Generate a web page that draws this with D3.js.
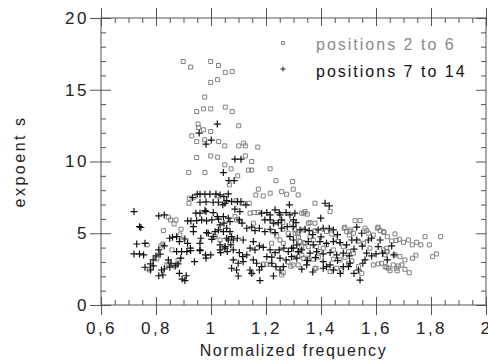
<!DOCTYPE html>
<html>
<head>
<meta charset="utf-8">
<script src="https://cdn.jsdelivr.net/npm/d3@7"></script>
<style>
  body { margin: 0; background: #fff; }
  svg { display: block; }
  svg text { font-family: "Liberation Sans", Arial, Helvetica, sans-serif; }
</style>
</head>
<body>
<div id="chart"></div>
<script>

// axis ticks
var freqTicks = [0.6, 0.8, 1, 1.2, 1.4, 1.6, 1.8, 2];
var expTicks = [0, 5, 10, 15, 20];

// legend labels
var seriesNames = ["positions 2 to 6", "positions 7 to 14"];

// positions 2 to 6 : [normalized frequency, exponent s]
var pos2to6 = [
  [0.899,16.97],[0.926,16.58],[0.999,16.97],[1.027,16.69],[1.052,16.21],[1.077,16.27],
  [0.999,15.51],[1.024,15.70],[0.977,14.49],[0.948,13.48],[0.973,13.67],[0.999,13.67],
  [1.052,13.79],[1.077,13.48],[0.953,12.61],[0.955,12.37],[0.973,12.21],[0.999,12.09],
  [1.101,12.49],[0.930,11.79],[0.977,11.51],[0.948,11.39],[1.028,11.39],[1.050,11.09],
  [1.101,11.09],[1.119,11.28],[1.125,11.09],[1.170,11.0],[0.948,10.28],[0.999,10.39],
  [1.024,10.30],[1.125,10.39],[1.148,10.0],[1.050,9.77],[1.073,9.49],[1.136,9.40],
  [1.148,9.40],[1.215,9.49],[0.919,9.23],[0.978,9.23],[1.097,9.0],[1.236,8.67],
  [1.297,8.60],[1.067,8.37],[1.172,8.07],[1.215,7.79],[1.257,7.90],[1.275,7.72],
  [1.299,8.07],[1.317,7.67],[1.190,7.60],[0.921,7.44],[0.938,7.51],[1.163,7.67],
  [1.091,7.26],[1.112,7.09],[1.139,7.09],[1.142,6.40],[1.157,6.44],[1.172,6.44],
  [1.087,6.16],[1.093,5.93],[1.105,5.86],[1.154,5.70],[1.261,5.28],[1.281,5.0],
  [1.305,5.23],[1.315,4.95],[1.015,4.76],[1.033,4.53],[1.148,2.21],[1.190,2.84],
  [1.203,2.84],[1.215,2.84],[1.257,2.09],
  [0.92,7.09],[1.021,7.60],[0.845,6.12],[0.853,5.93],[0.873,5.93],[0.866,5.65],
  [0.827,5.18],[0.891,5.28],[0.887,4.88],[0.895,4.58],[0.818,4.12],[0.825,4.25],
  [0.768,4.19],[0.858,3.84],[0.839,2.79],[0.847,2.86],[0.869,2.72],[0.803,3.21],
  [0.784,2.60],[0.775,2.45],[0.88,3.1],
  [1.378,7.09],[1.433,6.51],[1.342,6.51],[1.33,6.40],[1.354,5.70],[1.378,5.70],
  [1.336,5.23],[1.524,5.88],[1.542,5.88],[1.487,5.42],[1.505,5.11],[1.518,5.0],
  [1.608,5.42],[1.572,5.0],[1.590,4.88],[1.627,5.11],[1.641,4.76],[1.535,4.45],
  [1.554,4.30],[1.578,3.96],[1.639,3.72],[1.536,2.67],[1.548,2.21],[1.59,2.79],
  [1.608,2.86],[1.633,2.67],[1.645,2.56],[1.299,2.79],[1.317,2.79],[1.378,2.56],
  [1.433,2.33],[1.457,2.56],[1.475,2.44],[1.512,3.09],[1.50,2.91],[1.445,3.19],
  [1.469,3.14],[1.487,3.33],[1.336,3.26],[1.354,3.14],[1.372,3.19],[1.39,3.33],
  [1.306,5.0],[1.318,4.76],[1.324,4.42],[1.33,4.07],[1.342,4.30],[1.36,4.76],
  [1.372,4.53],[1.384,4.07],[1.396,3.72],[1.408,3.96],[1.42,4.19],[1.445,3.84],
  [1.463,4.42],[1.481,4.07],[1.50,3.72],[1.518,3.61],
  [1.225,5.11],[1.236,5.74],[1.261,5.74],[1.293,5.70],[1.36,5.74],[1.338,6.40],
  [1.35,6.33],[1.378,5.18],[1.42,5.11],[1.439,4.95],[1.451,4.65],[1.484,5.35],
  [1.493,5.11],[1.336,4.35],[1.354,4.07],[1.33,3.49],[1.35,3.26],[1.382,2.56],
  [1.263,2.25],[1.239,4.81],[1.251,4.53],[1.263,4.30],[1.22,4.3],[1.30,3.3],
  [1.28,3.0],[1.29,2.7],[1.605,5.35],[1.508,5.23],[1.503,4.88],[1.56,5.35],[1.566,5.18],
  [1.615,5.18],[1.629,5.07],[1.669,4.95],[1.657,4.46],[1.673,4.49],[1.685,4.58],
  [1.70,4.37],[1.718,4.53],[1.732,4.19],[1.748,4.37],[1.763,4.19],[1.778,4.76],
  [1.794,4.19],[1.835,4.76],[1.806,3.37],[1.82,3.56],[1.733,3.26],[1.745,3.47],
  [1.705,3.14],[1.687,3.37],[1.669,3.49],[1.627,3.84],[1.639,3.96],[1.641,3.72],
  [1.633,3.49],[1.62,2.91],[1.639,2.63],[1.651,2.39],[1.663,2.79],[1.675,2.56],
  [1.681,2.72],[1.694,2.79],[1.677,2.39],[1.705,2.49],[1.721,2.25]
];

// positions 7 to 14 : [normalized frequency, exponent s]
var pos7to14 = [
  [0.72,6.51],[0.74,5.46],[0.745,5.4],[0.76,4.30],[0.73,4.25],[0.72,3.56],[0.74,3.56],
  [0.755,3.49],[0.76,2.63],[0.78,2.86],[0.79,2.72],[0.78,2.44],[0.79,3.14],[0.80,3.42],
  [0.81,3.84],[0.815,3.54],[0.83,4.12],[0.82,2.44],[0.83,2.51],[0.81,2.04],[0.825,2.09],
  [0.845,3.14],[0.85,2.63],[0.855,2.91],[0.87,2.72],[0.88,2.86],[0.885,2.21],[0.895,1.81],
  [0.905,1.70],[0.91,2.04],[0.89,3.26],[0.85,4.65],[0.86,4.72],[0.875,4.76],[0.885,4.42],
  [0.905,4.60],[0.915,4.30],[0.925,3.96],[0.875,3.72],[0.893,3.72],[0.912,3.72],
  [0.926,3.79],[0.94,3.02],[0.96,3.79],[0.98,3.49],[0.96,4.30],[0.81,6.21],[0.83,6.28],
  [0.915,5.86],[0.927,5.86],[0.936,5.46],
  [0.95,7.72],[0.96,7.72],[0.978,7.72],[0.996,7.72],[0.933,7.49],[0.96,7.16],[0.945,6.40],
  [0.978,6.58],[0.982,7.19],[0.966,5.93],[0.984,5.86],[0.948,5.88],[1.008,7.16],
  [1.027,7.16],[1.051,7.09],[1.003,5.93],[1.027,5.98],[1.015,5.11],[0.984,5.04],
  [0.936,5.11],[0.963,4.65],[1.003,4.58],[1.033,3.84],[1.063,4.53],[1.051,4.07],
  [1.057,5.35],[1.063,6.05],
  [1.023,12.61],[0.957,11.98],[1.001,11.49],[0.982,11.21],[1.087,10.16],[1.109,10.16],
  [1.045,9.23],[1.065,8.67],[1.084,8.67],
  [1.018,7.74],[1.033,7.67],[1.047,7.55],[1.063,7.74],[1.043,6.98],[1.057,7.28],
  [1.075,7.21],[1.096,7.21],[1.109,7.21],[1.127,6.98],[1.087,6.68],[1.105,6.51],[1.285,6.98],
  [0.96,6.40],[0.982,6.51],[1.008,6.44],[1.023,6.16],[1.045,6.16],[1.069,5.81],[1.047,5.70],
  [1.033,5.58],[1.103,5.93],[1.113,5.70],
  [1.184,6.40],[1.203,6.44],[1.215,6.28],[1.233,6.63],[1.248,6.44],[1.251,6.28],
  [1.273,6.44],[1.287,6.28],[1.305,6.40],[1.196,5.93],[1.215,5.93],[1.227,5.70],
  [1.245,5.74],[1.257,5.93],
  [1.130,5.35],[1.148,5.42],[1.16,5.18],[1.176,5.35],[1.196,5.11],[1.215,5.28],
  [1.233,5.04],[1.257,5.35],[1.277,5.46],[1.299,5.46],
  [0.99,5.0],[1.008,4.76],[1.027,5.23],[1.045,5.11],[1.069,5.11],[1.057,4.65],[1.075,4.76],
  [1.081,4.53],[1.096,4.65],[1.117,4.53],[1.154,4.42],
  [0.96,3.84],[0.982,3.26],[0.999,3.49],[1.033,4.19],[1.051,3.96],[1.072,4.19],[1.035,3.65],
  [1.059,3.72],[1.081,3.84],[1.103,3.65],[1.115,3.37],[1.130,3.49],[1.142,3.96],[1.16,3.84],
  [1.176,4.12],[1.19,4.02],[1.215,3.84],[1.233,3.65],[1.248,3.84],[1.265,3.96],[1.281,3.72],
  [1.299,3.96],[1.317,3.72],[1.203,3.37],[1.221,3.33],[1.251,3.26],[1.273,3.14],
  [1.293,3.37],[1.312,3.26],
  [1.081,3.14],[1.099,2.91],[1.117,3.02],[1.093,2.44],[1.075,2.56],[1.154,3.14],[1.166,2.91],
  [1.176,2.44],[1.184,2.67],[1.142,2.44],[1.148,2.21],[1.221,2.91],[1.236,2.67],[1.251,2.44],
  [1.263,2.67],[1.227,2.02],[1.099,2.02],[1.178,1.70],
  [1.415,7.09],[1.43,6.91],[1.399,6.05],[1.30,5.93],[1.309,5.74],[1.324,5.23],[1.342,5.28],
  [1.357,5.18],[1.39,5.23],[1.408,5.35],[1.43,5.35],[1.445,5.23],[1.53,5.42],[1.548,5.0],
  [1.512,4.53],[1.53,4.53],[1.572,4.53],[1.584,4.65],[1.615,4.53],[1.608,4.07],
  [1.287,4.76],[1.30,4.53],[1.312,4.19],[1.293,3.96],[1.318,3.72],[1.33,3.84],[1.354,4.42],
  [1.372,4.19],[1.396,4.42],[1.42,4.30],[1.445,4.42],[1.469,4.35],[1.493,4.19],[1.36,3.61],
  [1.384,3.72],[1.408,3.56],[1.433,3.65],[1.457,3.49],[1.481,3.61],[1.503,3.42],[1.348,2.79],
  [1.408,3.02],[1.42,2.67],[1.433,2.79],[1.50,2.67],[1.505,2.91],[1.408,2.56],[1.445,2.44],
  [1.481,2.67],[1.542,1.74],[1.536,2.44],[1.552,2.91],[1.566,3.61],[1.584,3.42],[1.60,3.56],
  [1.56,3.14],[1.37,4.9],[1.40,4.75],[1.46,4.9],[1.35,3.1],[1.38,3.3],[1.46,3.1],[1.52,3.9],
  [1.55,4.1],[1.33,2.5],[1.37,2.3],[1.47,2.2],[1.52,2.2],
  [1.657,4.12],[1.624,3.61],[1.665,3.49],[1.641,3.14]
];

var W = 488, H = 363;
var margin = {top: 18, right: 2, bottom: 58, left: 101},
    width = W - margin.left - margin.right,
    height = H - margin.top - margin.bottom;

var axisColor = "#555";
var greyMark = "#808080";
var fontStack = "'Liberation Sans', Arial, Helvetica, sans-serif";

var x = d3.scaleLinear().domain([0.6, 2]).range([0, width]);
var y = d3.scaleLinear().domain([0, 20]).range([height, 0]);

var fmt = function(v) { return String(+v.toFixed(1)).replace(".", ","); };

var svg = d3.select("#chart").append("svg")
    .attr("width", W)
    .attr("height", H);

var g = svg.append("g")
    .attr("transform", "translate(" + margin.left + "," + margin.top + ")");

// minor tick values
var freqMinor = d3.range(0.65, 2, 0.05).filter(function(v) {
  return Math.abs(v * 5 - Math.round(v * 5)) > 1e-6;
});
var expMinor = d3.range(1, 20, 1).filter(function(v) { return v % 5 !== 0; });

function styleAxis(sel) {
  sel.attr("font-family", fontStack);
  sel.select(".domain").remove();
  sel.selectAll("line").attr("stroke", axisColor);
  sel.selectAll("text")
     .attr("fill", "#222")
     .style("font-family", fontStack)
     .style("font-size", "17px")
     .style("letter-spacing", "2.5px");
}

// bottom axis: labels + outside part of major ticks
g.append("g")
    .attr("transform", "translate(0," + height + ")")
    .call(d3.axisBottom(x).tickValues(freqTicks).tickFormat(fmt).tickSizeOuter(0).tickSize(10).tickPadding(7))
    .call(styleAxis);
// inside major + minor (bottom)
g.append("g")
    .attr("transform", "translate(0," + height + ")")
    .call(d3.axisBottom(x).tickValues(freqTicks).tickFormat("").tickSizeOuter(0).tickSize(-8))
    .call(styleAxis);
g.append("g")
    .attr("transform", "translate(0," + height + ")")
    .call(d3.axisBottom(x).tickValues(freqMinor).tickFormat("").tickSizeOuter(0).tickSize(-5))
    .call(styleAxis);

// top axis
g.append("g")
    .call(d3.axisTop(x).tickValues(freqTicks).tickFormat("").tickSizeOuter(0).tickSize(10))
    .call(styleAxis);
g.append("g")
    .call(d3.axisTop(x).tickValues(freqTicks).tickFormat("").tickSizeOuter(0).tickSize(-8))
    .call(styleAxis);
g.append("g")
    .call(d3.axisTop(x).tickValues(freqMinor).tickFormat("").tickSizeOuter(0).tickSize(-5))
    .call(styleAxis);

// left axis
g.append("g")
    .call(d3.axisLeft(y).tickValues(expTicks).tickFormat(d3.format("d")).tickSizeOuter(0).tickSize(11).tickPadding(1))
    .call(styleAxis);
g.append("g")
    .call(d3.axisLeft(y).tickValues(expTicks).tickFormat("").tickSizeOuter(0).tickSize(-10))
    .call(styleAxis);
g.append("g")
    .call(d3.axisLeft(y).tickValues(expMinor).tickFormat("").tickSizeOuter(0).tickSize(-5))
    .call(styleAxis);

// right axis
g.append("g")
    .attr("transform", "translate(" + width + ",0)")
    .call(d3.axisRight(y).tickValues(expTicks).tickFormat("").tickSizeOuter(0).tickSize(-10))
    .call(styleAxis);
g.append("g")
    .attr("transform", "translate(" + width + ",0)")
    .call(d3.axisRight(y).tickValues(expMinor).tickFormat("").tickSizeOuter(0).tickSize(-5))
    .call(styleAxis);

// frame
g.append("rect")
    .attr("x", 0).attr("y", 0)
    .attr("width", width).attr("height", height)
    .attr("fill", "none")
    .attr("stroke", axisColor)
    .attr("stroke-width", 1);

// axis titles
svg.append("text")
    .attr("x", margin.left + width / 2)
    .attr("y", 356)
    .attr("text-anchor", "middle")
    .style("font-size", "16px")
    .style("letter-spacing", "1.6px")
    .attr("fill", "#222")
    .text("Normalized frequency");

svg.append("text")
    .attr("transform", "translate(25," + (margin.top + height / 2) + ") rotate(-90)")
    .attr("text-anchor", "middle")
    .style("font-size", "16px")
    .style("letter-spacing", "2.5px")
    .attr("fill", "#222")
    .text("expoent s");

var squarePath = "M-2,-2h4v4h-4z";
var plusPath = "M-3.5,0H3.5M0,-3.5V3.5";

// positions 2 to 6 : grey open squares
g.selectAll(".sq")
    .data(pos2to6)
  .enter().append("path")
    .attr("class", "sq")
    .attr("d", squarePath)
    .attr("transform", function(d) { return "translate(" + x(d[0]) + "," + y(d[1]) + ")"; })
    .attr("fill", "none")
    .attr("stroke", greyMark)
    .attr("stroke-width", 1);

// positions 7 to 14 : black plus signs
g.selectAll(".pl")
    .data(pos7to14)
  .enter().append("path")
    .attr("class", "pl")
    .attr("d", plusPath)
    .attr("transform", function(d) { return "translate(" + x(d[0]) + "," + y(d[1]) + ")"; })
    .attr("fill", "none")
    .attr("stroke", "#111")
    .attr("stroke-width", 1.2);

// legend
var legend = svg.append("g").attr("transform", "translate(283,43)");

legend.append("path")
    .attr("d", "M-1.5,-1.5h3v3h-3z")
    .attr("fill", "none")
    .attr("stroke", greyMark);
legend.append("text")
    .attr("x", 33).attr("y", 7)
    .style("font-size", "16px")
    .style("letter-spacing", "2px")
    .attr("fill", "#8a8a8a")
    .text(seriesNames[0]);

legend.append("path")
    .attr("d", "M-2.5,26H2.5M0,23.5V28.5")
    .attr("fill", "none")
    .attr("stroke", "#222");
legend.append("text")
    .attr("x", 33).attr("y", 34)
    .style("font-size", "16px")
    .style("letter-spacing", "2px")
    .attr("fill", "#111")
    .text(seriesNames[1]);

</script>
</body>
</html>
